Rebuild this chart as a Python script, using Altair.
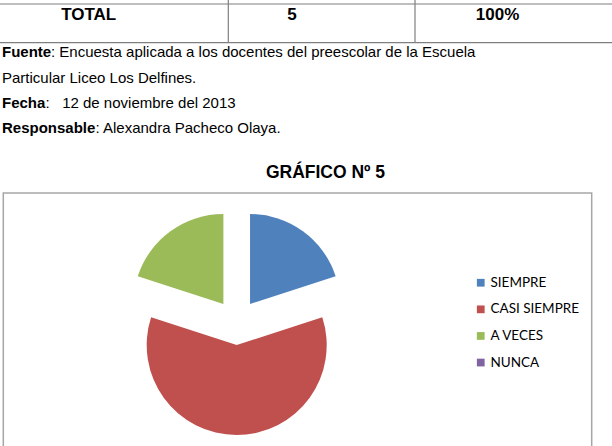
import altair as alt
import pandas as pd

# ---------------- data ----------------
categorias = ["SIEMPRE", "CASI SIEMPRE", "A VECES", "NUNCA"]
frecuencias = [1, 3, 1, 0]
colores = ["#4F81BD", "#C0504D", "#9BBB59", "#8064A2"]

fila_total = ["TOTAL", "5", "100%"]
titulo = "GRÁFICO Nº 5"
nota_negritas = ["Fuente", "Fecha", "Responsable"]
nota_textos = [
    ": Encuesta aplicada a los docentes del preescolar de la Escuela",
    "Particular Liceo Los Delfines.",
    ":\u00a0\u00a0\u00a012 de noviembre del 2013",
    ": Alexandra Pacheco Olaya.",
]

# ---------------- layout ----------------
W, H = 612, 446
FONT = "Liberation Sans"
CX, CY, R, D = 236.7, 322.4, 90, 22.7
LINE = "#7f7f7f"

df = pd.DataFrame({"categoria": categorias, "valor": frecuencias,
                   "orden": list(range(len(categorias)))})


def txt(s, x, y, size, bold=False, align="left", font=FONT):
    return alt.Chart(pd.DataFrame({"t": [s]})).mark_text(
        align=align, baseline="alphabetic", font=font, fontSize=size,
        fontWeight="bold" if bold else "normal", color="#000000"
    ).encode(x=alt.value(x), y=alt.value(y), text="t:N")


def hline(x1, x2, y, color=LINE, w=1.2):
    return alt.Chart(pd.DataFrame({"a": [0]})).mark_rule(color=color, strokeWidth=w).encode(
        x=alt.value(x1), x2=alt.value(x2), y=alt.value(y))


def vline(x, y1, y2, color=LINE, w=1.2):
    return alt.Chart(pd.DataFrame({"a": [0]})).mark_rule(color=color, strokeWidth=w).encode(
        x=alt.value(x), y=alt.value(y1), y2=alt.value(y2))


layers = []
# table fragment
layers += [hline(0, W, 4), hline(0, W, 42.7), vline(228.3, 0, 42.7), vline(415, 0, 42.7)]
layers += [txt(fila_total[0], 88.7, 20, 17, True, "center"),
           txt(fila_total[1], 292, 20, 17, True, "center"),
           txt(fila_total[2], 497.5, 20, 17, True, "center")]

# notes
layers += [txt(nota_negritas[0], 2, 57, 15, True), txt(nota_textos[0], 51, 57, 15),
           txt(nota_textos[1], 2, 83, 15),
           txt(nota_negritas[1], 2, 108, 15, True), txt(nota_textos[2], 45.5, 108, 15),
           txt(nota_negritas[2], 2, 133, 15, True), txt(nota_textos[3], 95.5, 133, 15)]

# title
layers.append(txt(titulo, 325.5, 178, 17.5, True, "center"))

# chart box
layers.append(alt.Chart(pd.DataFrame({"a": [0]})).mark_rect(
    fillOpacity=0, stroke="#a6a6a6", strokeWidth=1.5).encode(
    x=alt.value(3.3), x2=alt.value(591.7), y=alt.value(193), y2=alt.value(460)))

# exploded pie
pie = alt.Chart(df).transform_joinaggregate(
    total="sum(valor)"
).transform_window(
    acum="sum(valor)", sort=[alt.SortField("orden")], frame=[None, 0]
).transform_calculate(
    t0="(datum.acum - datum.valor) / datum.total * 2 * PI",
    t1="datum.acum / datum.total * 2 * PI",
).transform_calculate(
    px=f"{CX} + {D} * sin((datum.t0 + datum.t1) / 2)",
    py=f"{CY} - {D} * cos((datum.t0 + datum.t1) / 2)",
).mark_arc(radius=R).encode(
    x=alt.X("px:Q", scale=None, axis=None),
    y=alt.Y("py:Q", scale=None, axis=None),
    theta=alt.Theta("t0:Q", scale=None),
    theta2="t1:Q",
    color=alt.Color("categoria:N", sort=categorias,
                    scale=alt.Scale(domain=categorias, range=colores),
                    legend=alt.Legend(orient="none", legendX=474, legendY=276, title=None,
                                      symbolType="square", symbolSize=60, symbolStrokeWidth=0,
                                      symbolOpacity=1, labelFont="Lato", labelFontSize=13.5,
                                      labelColor="#000000", labelOffset=3, rowPadding=11.6)),
)
layers.append(pie)

chart = alt.layer(*layers).properties(
    width=W, height=H, padding=0, autosize="none", background="white"
).configure_view(strokeWidth=0)

chart.save("out.html", embed_options={"renderer": "svg", "actions": False})
